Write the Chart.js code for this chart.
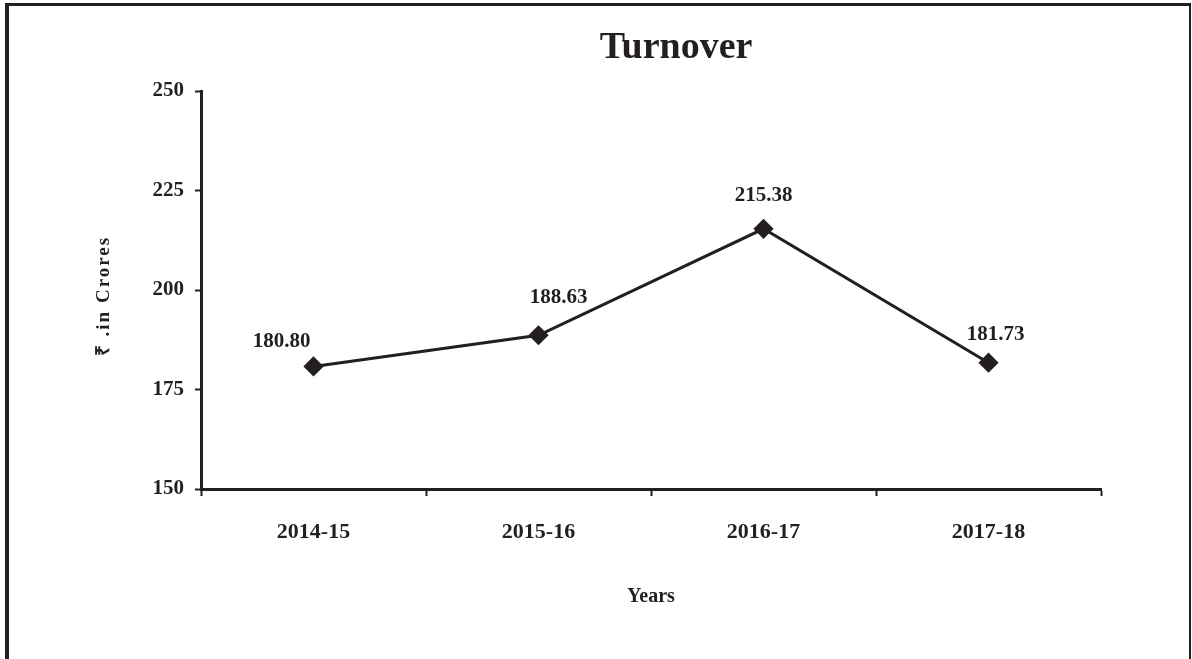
<!DOCTYPE html>
<html>
<head>
<meta charset="utf-8">
<title>Turnover</title>
<script src="https://cdn.jsdelivr.net/npm/chart.js@4"></script>
<style>
  html, body { margin: 0; padding: 0; background: #fff; }
  #wrap { position: relative; width: 1192px; height: 659px; overflow: hidden; }
  #frame {
    position: absolute; left: 5px; top: 3px; width: 1180px; height: 700px;
    border-left: 4px solid #231f20; border-top: 3px solid #231f20; border-right: 2px solid #231f20;
    pointer-events: none;
  }
</style>
</head>
<body>
<div id="wrap">
  <canvas id="turnoverChart" width="1192" height="659"></canvas>
  <div id="frame"></div>
</div>
<script>
const years = ['2014-15', '2015-16', '2016-17', '2017-18'];
const turnover = [180.80, 188.63, 215.38, 181.73];
const yTicks = [150, 175, 200, 225, 250];

const ink = '#231f20';
const serif = '"Liberation Serif", "Times New Roman", serif';

// chart title, drawn a bit right of the plot centre like the original
const titlePlugin = {
    id: 'turnoverTitle',
    afterDraw(chart, args, opts) {
        const ctx = chart.ctx;
        const area = chart.chartArea;
        ctx.save();
        ctx.font = 'bold 38px ' + serif;
        ctx.fillStyle = ink;
        ctx.textAlign = 'center';
        ctx.textBaseline = 'middle';
        ctx.fillText(opts.text, (area.left + area.right) / 2 + opts.offsetX, opts.y);
        ctx.restore();
    }
};

// rotated y axis title with spaced letters
const yTitlePlugin = {
    id: 'yTitle',
    afterDraw(chart, args, opts) {
        const ctx = chart.ctx;
        const area = chart.chartArea;
        ctx.save();
        ctx.translate(opts.x, (area.top + area.bottom) / 2 + 6);
        ctx.rotate(-Math.PI / 2);
        ctx.font = 'bold 19px ' + serif;
        ctx.letterSpacing = '2px';
        ctx.fillStyle = ink;
        ctx.textAlign = 'center';
        ctx.textBaseline = 'middle';
        ctx.fillText(opts.text, 0, 0);
        ctx.restore();
    }
};

// value labels over the points
const valueLabels = {
    id: 'valueLabels',
    afterDatasetsDraw(chart, args, opts) {
        const ctx = chart.ctx;
        const meta = chart.getDatasetMeta(0);
        const values = chart.data.datasets[0].data;
        ctx.save();
        ctx.font = 'bold 21px ' + serif;
        ctx.fillStyle = ink;
        ctx.textAlign = 'center';
        ctx.textBaseline = 'middle';
        meta.data.forEach((pt, i) => {
            const off = opts.offsets[i] || [0, -30];
            ctx.fillText(values[i].toFixed(2), pt.x + off[0], pt.y + off[1]);
        });
        ctx.restore();
    }
};

new Chart(document.getElementById('turnoverChart'), {
    type: 'line',
    data: {
        labels: years,
        datasets: [{
            label: 'Turnover',
            data: turnover,
            borderColor: ink,
            backgroundColor: ink,
            borderWidth: 3,
            tension: 0,
            pointStyle: 'rectRot',
            pointRadius: 8,
            pointHoverRadius: 8,
            pointBackgroundColor: ink,
            pointBorderColor: ink
        }]
    },
    options: {
        responsive: false,
        animation: false,
        devicePixelRatio: 1,
        layout: {
            padding: { left: 85, right: 91, top: 91, bottom: 0 }
        },
        plugins: {
            legend: { display: false },
            tooltip: { enabled: false },
            turnoverTitle: { text: 'Turnover', offsetX: 25, y: 48 },
            yTitle: { text: '₹ .in Crores', x: 104 },
            valueLabels: { offsets: [[-32, -25], [20, -38], [0, -33], [7, -28]] }
        },
        scales: {
            x: {
                offset: true,
                grid: {
                    offset: true,
                    drawOnChartArea: false,
                    drawTicks: true,
                    tickLength: 7,
                    tickWidth: 2,
                    tickColor: ink
                },
                border: { display: true, color: ink, width: 3 },
                ticks: {
                    color: ink,
                    padding: 23,
                    font: { family: serif, size: 22, weight: 'bold' }
                },
                title: {
                    display: true,
                    text: 'Years',
                    color: ink,
                    padding: { top: 0, bottom: 50 },
                    font: { family: serif, size: 20, weight: 'bold' }
                },
                afterFit(scale) { scale.height = 170; }
            },
            y: {
                min: 150,
                max: 250,
                afterBuildTicks(scale) { scale.ticks = yTicks.map(v => ({ value: v })); },
                grid: {
                    drawOnChartArea: false,
                    drawTicks: true,
                    tickLength: 6,
                    tickWidth: 2,
                    tickColor: ink
                },
                border: { display: true, color: ink, width: 3 },
                ticks: {
                    color: ink,
                    padding: 11,
                    font: { family: serif, size: 21, weight: 'bold' }
                },
                afterFit(scale) { scale.width = 116; }
            }
        }
    },
    plugins: [titlePlugin, yTitlePlugin, valueLabels]
});
</script>
</body>
</html>
